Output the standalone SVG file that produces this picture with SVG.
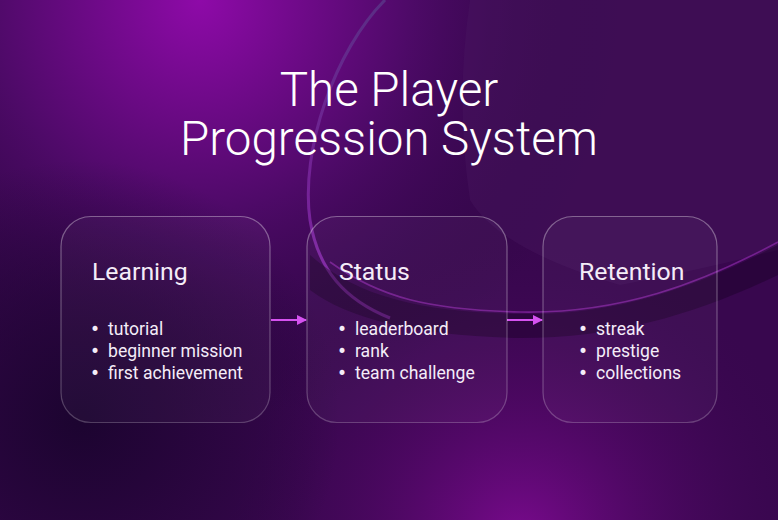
<svg xmlns="http://www.w3.org/2000/svg" width="778" height="520" viewBox="0 0 778 520">
<defs>
<radialGradient id="bgA" cx="200" cy="0" r="420" gradientUnits="userSpaceOnUse">
<stop offset="0" stop-color="#8e0aa8"/>
<stop offset="0.5" stop-color="#4e0a68"/>
<stop offset="1" stop-color="#2a0640" stop-opacity="0"/>
</radialGradient>
<radialGradient id="bgB" cx="520" cy="540" r="300" gradientUnits="userSpaceOnUse">
<stop offset="0" stop-color="#7a0a8e"/>
<stop offset="1" stop-color="#3a0650" stop-opacity="0"/>
</radialGradient>
<radialGradient id="bgC" cx="80" cy="420" r="260" gradientUnits="userSpaceOnUse">
<stop offset="0" stop-color="#1c0430"/>
<stop offset="1" stop-color="#1c0430" stop-opacity="0"/>
</radialGradient>
<linearGradient id="ringStroke" x1="0" y1="0" x2="0" y2="1">
<stop offset="0" stop-color="#5a3a8a"/>
<stop offset="0.5" stop-color="#7a2aa0"/>
<stop offset="1" stop-color="#a030c8"/>
</linearGradient>
<linearGradient id="boxStroke" x1="0" y1="0" x2="0" y2="1">
<stop offset="0" stop-color="#ffffff" stop-opacity="0.35"/>
<stop offset="1" stop-color="#ffffff" stop-opacity="0.22"/>
</linearGradient>
<marker id="arr" markerWidth="10" markerHeight="10" refX="9" refY="5" orient="auto" markerUnits="userSpaceOnUse">
<path d="M0,0 L10,5 L0,10 Z" fill="#d552f0"/>
</marker>
<style>
.title{font-family:Roboto,"Liberation Sans",sans-serif;font-weight:300;font-size:47.5px;fill:#ffffff;text-anchor:middle}
.head{font-family:Roboto,"Liberation Sans",sans-serif;font-weight:400;font-size:24.8px;fill:#f4ecf8}
.item{font-family:Roboto,"Liberation Sans",sans-serif;font-weight:400;font-size:17.6px;fill:#f4ecf8}
.dot{font-family:"DejaVu Sans",sans-serif;font-size:17px;fill:#f4ecf8}
.box{fill:#ffffff;fill-opacity:0.035;stroke:url(#boxStroke);stroke-width:1.2}
.conn{stroke:#d552f0;stroke-width:2;fill:none}
</style>
</defs>
<rect width="778" height="520" fill="#38074e"/>
<rect width="778" height="520" fill="url(#bgA)"/>
<rect width="778" height="520" fill="url(#bgB)"/>
<rect width="778" height="520" fill="url(#bgC)"/>
<path d="M470,0 L778,0 L778,250 Q700,270 620,285 Q500,250 470,200 Q455,100 470,0 Z" fill="#4a1a60" fill-opacity="0.35"/>
<path d="M385,0 C335,50 300,150 310,220 C318,270 345,300 390,318" fill="none" stroke="url(#ringStroke)" stroke-width="3" opacity="0.75"/>
<path d="M310,255 C360,300 430,312 520,314 C620,316 700,285 778,245 L778,275 C700,312 620,338 520,338 C420,336 350,320 310,290 Z" fill="#1a0228" fill-opacity="0.45"/>
<path d="M330,262 C380,298 430,310 520,312 C620,314 700,284 778,242" fill="none" stroke="#a030c0" stroke-width="1.6" opacity="0.55"/>
<g id="title">
<text class="title" x="389" y="106">The Player</text>
<text class="title" x="389" y="155">Progression System</text>
</g>
<g id="connectors">
<line class="conn" x1="271" y1="320" x2="306" y2="320" marker-end="url(#arr)"/>
<line class="conn" x1="507" y1="320" x2="542" y2="320" marker-end="url(#arr)"/>
</g>
<g id="node-learning">
<rect class="box" x="61" y="216.5" width="209" height="206" rx="30"/>
<text class="head" x="92" y="280">Learning</text>
<text class="dot" x="90" y="335">•</text><text class="item" x="108" y="335">tutorial</text>
<text class="dot" x="90" y="357">•</text><text class="item" x="108" y="357">beginner mission</text>
<text class="dot" x="90" y="379">•</text><text class="item" x="108" y="379">first achievement</text>
</g>
<g id="node-status">
<rect class="box" x="307" y="216.5" width="200" height="206" rx="30"/>
<text class="head" x="339" y="280">Status</text>
<text class="dot" x="337" y="335">•</text><text class="item" x="355" y="335">leaderboard</text>
<text class="dot" x="337" y="357">•</text><text class="item" x="355" y="357">rank</text>
<text class="dot" x="337" y="379">•</text><text class="item" x="355" y="379">team challenge</text>
</g>
<g id="node-retention">
<rect class="box" x="543" y="216.5" width="174" height="206" rx="30"/>
<text class="head" x="579" y="280">Retention</text>
<text class="dot" x="578" y="335">•</text><text class="item" x="596" y="335">streak</text>
<text class="dot" x="578" y="357">•</text><text class="item" x="596" y="357">prestige</text>
<text class="dot" x="578" y="379">•</text><text class="item" x="596" y="379">collections</text>
</g>
</svg>
